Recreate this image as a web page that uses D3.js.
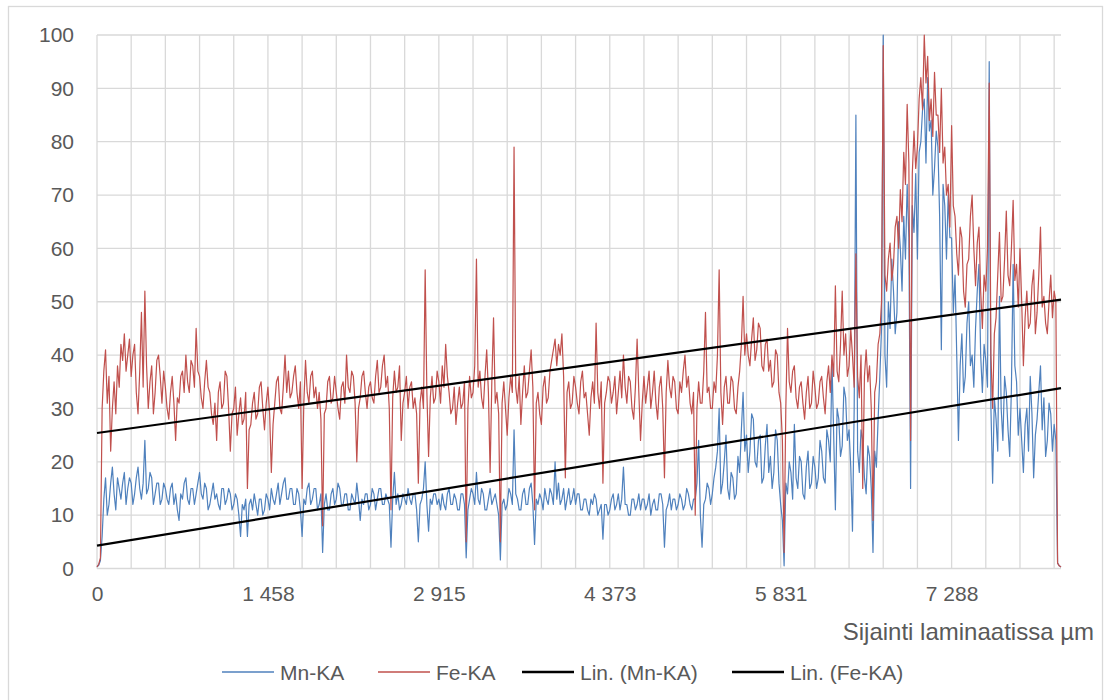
<!DOCTYPE html>
<html><head><meta charset="utf-8">
<script src="https://cdn.jsdelivr.net/npm/d3@7"></script>
<style>
body{margin:0;background:#fff}
svg{display:block}
text{font-family:"Liberation Sans",Arial,sans-serif;fill:#595959}
</style>
</head><body>
<svg id="c" width="1105" height="700"></svg>
<script>
const mnKA = [
0.3,0.6,1.5,6,13,17,10,12,16,19,14,11,17,15,13,16,18,12,15,17,
16,12,14,17,19,15,13,16,24,14,15,18,17,12,14,16,16,12,13,16,
15,13,12,15,16,12,14,11,9,14,13,16,17,13,12,15,15,12,14,16,
18,14,13,16,15,11,12,14,16,13,14,12,11,15,15,12,13,15,14,11,
12,14,13,10,6,12,11,13,6,12,13,11,14,12,10,13,13,10,11,14,
13,11,15,13,12,14,16,12,14,16,17,13,13,15,15,12,12,15,14,11,
6,13,12,15,16,12,13,15,15,11,12,14,3,12,14,11,11,14,15,12,
13,16,15,12,12,14,14,11,11,14,13,12,16,13,9,13,12,14,14,11,
12,15,14,11,13,15,15,12,12,14,13,12,4,13,18,12,14,11,12,14,
13,12,15,13,12,14,14,11,5,12,13,15,20,12,7,13,12,14,14,12,
13,11,14,12,11,14,15,12,12,14,13,11,11,14,14,12,2,11,13,15,
14,12,18,13,12,15,14,11,11,13,15,12,13,14,12,10,1.6,12,13,11,
12,15,14,12,26,14,13,11,11,14,15,12,12,15,16,12,4.5,13,12,14,
13,11,15,13,12,15,14,12,20,13,16,12,13,15,11,13,15,12,13,15,
12,14,14,11,11,13,13,11,10,13,12,14,13,10,11,12,5.5,12,12,10,
11,13,14,11,12,14,11,13,19,12,12,10,10,13,13,11,12,14,11,13,
13,11,12,14,10,12,13,11,11,14,14,12,4,11,12,14,11,13,13,11,
12,14,13,11,12,15,14,12,11,13,13,16,24,10,4,12,13,16,15,12,
14,17,19,22,30,14,16,20,25,15,13,18,17,13,14,21,18,26,33,22,
25,18,22,29,28,20,19,24,25,16,17,23,27,18,21,15,18,26,24,16,
12,9,0.5,16,14,20,18,13,27,17,15,21,20,14,13,19,22,15,16,21,
19,15,17,24,22,17,16,26,24,20,39,25,11,30,28,21,23,34,32,24,
26,19,7,30,85,22,18,26,24,17,14,23,21,15,3,22,19,28,36,45,
100,40,34,50,45,58,52,44,48,65,60,52,66,58,72,62,15,68,63,74,
58,78,80,86,88,76,92,82,84,70,75,82,79,66,41,72,68,58,70,62,
62,48,55,40,24,38,44,33,36,46,50,38,40,34,45,52,57,40,33,42,
39,34,95,30,16,32,28,22,51,30,24,36,33,26,21,34,57,38,35,25,
30,24,18,27,30,22,36,29,17,25,28,33,38,26,32,21,24,31,29,22,
27,24,1,0.5,0.3];

// Fe-KA series
const feKA = [
0.3,0.8,2,30,37,41,31,36,22,30,35,29,38,34,42,39,44,37,40,43,
36,40,42,33,29,37,48,34,52,38,30,35,38,29,33,39,40,36,31,37,
34,30,28,33,36,31,24,32,31,36,37,33,40,35,33,39,38,34,45,37,
36,32,30,35,39,34,33,29,27,31,24,33,35,30,31,37,36,30,22,29,
30,34,25,29,32,27,28,33,15,26,27,31,33,28,29,34,35,30,26,31,
34,29,18,27,31,35,36,30,29,34,40,33,37,32,33,36,38,33,30,35,
15,31,39,33,31,36,37,32,34,30,33,28,8,29,30,35,36,31,32,36,
33,30,28,34,35,31,40,34,33,37,36,31,20,30,32,36,37,33,30,34,
35,32,31,36,39,33,34,38,40,34,36,30,11,32,37,33,34,38,24,31,
33,36,30,34,35,30,32,29,16,31,34,30,56,33,21,32,36,31,32,37,
35,31,38,34,42,36,33,29,30,34,27,31,34,30,31,35,5,30,36,32,
33,38,58,34,37,32,30,36,41,33,18,35,47,31,33,29,5,31,35,30,
25,32,36,33,79,34,31,36,27,33,38,32,33,37,41,34,11,31,33,29,
27,34,36,31,32,37,39,41,43,38,42,40,44,36,17,33,35,30,31,36,
34,31,29,35,37,32,33,29,25,32,35,31,46,33,30,35,16,31,33,36,
35,31,33,36,29,33,37,32,40,34,31,36,35,30,28,34,43,33,24,31,
36,31,34,37,30,33,37,31,28,34,36,30,17,33,39,34,32,36,35,30,
29,35,33,37,40,34,36,31,29,33,10,30,35,31,31,37,48,33,34,30,
30,35,33,40,56,33,27,34,36,31,31,36,35,30,29,34,37,42,51,40,
44,40,38,43,47,39,41,46,45,38,37,42,43,37,39,34,35,41,40,33,
31,24,3,30,45,35,33,37,38,32,30,34,35,31,28,33,36,30,31,37,
34,30,31,35,36,32,29,35,38,33,40,36,53,37,35,42,52,40,44,36,
38,45,40,34,59,36,32,40,15,36,41,35,38,30,9,33,35,42,44,50,
98,55,52,58,61,54,57,64,66,60,71,65,78,72,87,76,24,74,82,75,
79,88,92,86,100,91,96,84,88,81,93,85,85,78,90,76,79,70,72,64,
83,68,66,59,55,64,62,52,49,57,58,66,70,60,53,61,64,52,45,55,
52,60,91,40,30,44,47,55,63,50,51,58,67,55,53,60,69,54,57,49,
60,50,38,47,52,45,46,53,56,44,48,55,64,49,51,46,44,50,55,47,
52,50,1,0.5,0.3];

// Linear trendlines (value at first and last point)
const trendMn = [4.3, 33.8];
const trendFe = [25.4, 50.4];

const xTickLabels = ["0","1 458","2 915","4 373","5 831","7 288"];
const xTickIndex = [0,100,200,300,400,500];
const gridStep = 20;
const yTicks = [0,10,20,30,40,50,60,70,80,90,100];
const legendNames = ["Mn-KA","Fe-KA","Lin. (Mn-KA)","Lin. (Fe-KA)"];
const xTitle = "Sijainti laminaatissa µm";

const blue = "#4f81bd", red = "#c0504d", grid = "#d9d9d9";
const svg = d3.select("#c");
svg.append("rect").attr("x",8.5).attr("y",6.5).attr("width",1094).attr("height",700)
  .attr("fill","#fff").attr("stroke",grid).attr("stroke-width",1.3);

const L = 97, R = 1061, T = 35, B = 568.5;
const n = mnKA.length;
const x = d3.scaleLinear().domain([0, n-1]).range([L, R]);
const y = d3.scaleLinear().domain([0,100]).range([B, T]);

// grid
const g = svg.append("g");
g.selectAll("line.h").data(yTicks).join("line")
  .attr("x1",L).attr("x2",R).attr("y1",d=>y(d)).attr("y2",d=>y(d))
  .attr("stroke",grid).attr("stroke-width",1.3);
g.selectAll("line.v").data(d3.range(0, n-4, gridStep)).join("line")
  .attr("x1",d=>x(d)).attr("x2",d=>x(d)).attr("y1",T).attr("y2",B)
  .attr("stroke",grid).attr("stroke-width",1.3);

// axes
const yAx = svg.append("g").attr("transform",`translate(${L},0)`)
  .call(d3.axisLeft(y).tickValues(yTicks).tickSize(0).tickPadding(23));
yAx.select(".domain").remove();
yAx.selectAll("text").style("font-size","21px").style("font-family","Liberation Sans, Arial, sans-serif").attr("fill","#595959");

const xAx = svg.append("g").attr("transform",`translate(0,${B})`)
  .call(d3.axisBottom(x).tickValues(xTickIndex).tickFormat((d,i)=>xTickLabels[i]).tickSize(0).tickPadding(18));
xAx.select(".domain").remove();
xAx.selectAll("text").style("font-size","21px").style("font-family","Liberation Sans, Arial, sans-serif").attr("fill","#595959");

svg.append("text").attr("x",1094).attr("y",640).attr("text-anchor","end")
  .style("font-size","24px").text(xTitle);

// series
const line = d3.line().x((d,i)=>x(i)).y(d=>y(d));
svg.append("path").datum(mnKA).attr("d",line).attr("fill","none")
  .attr("stroke",blue).attr("stroke-width",1.2).attr("stroke-linejoin","round");
svg.append("path").datum(feKA).attr("d",line).attr("fill","none")
  .attr("stroke",red).attr("stroke-width",1.2).attr("stroke-linejoin","round");

// trendlines
[trendMn, trendFe].forEach(t=>{
  svg.append("line").attr("x1",x(0)).attr("x2",x(n-1))
    .attr("y1",y(t[0])).attr("y2",y(t[1]))
    .attr("stroke","#000").attr("stroke-width",2.2);
});

// legend
const legItems = [
  {name:legendNames[0], color:blue, w:1.5, x1:222},
  {name:legendNames[1], color:red, w:1.5, x1:378},
  {name:legendNames[2], color:"#000", w:2.5, x1:522},
  {name:legendNames[3], color:"#000", w:2.5, x1:732}
];
const lg = svg.append("g");
legItems.forEach(it=>{
  lg.append("line").attr("x1",it.x1).attr("x2",it.x1+52).attr("y1",672).attr("y2",672)
    .attr("stroke",it.color).attr("stroke-width",it.w);
  lg.append("text").attr("x",it.x1+58).attr("y",679.5).style("font-size","21px").text(it.name);
});
</script>
</body></html>
